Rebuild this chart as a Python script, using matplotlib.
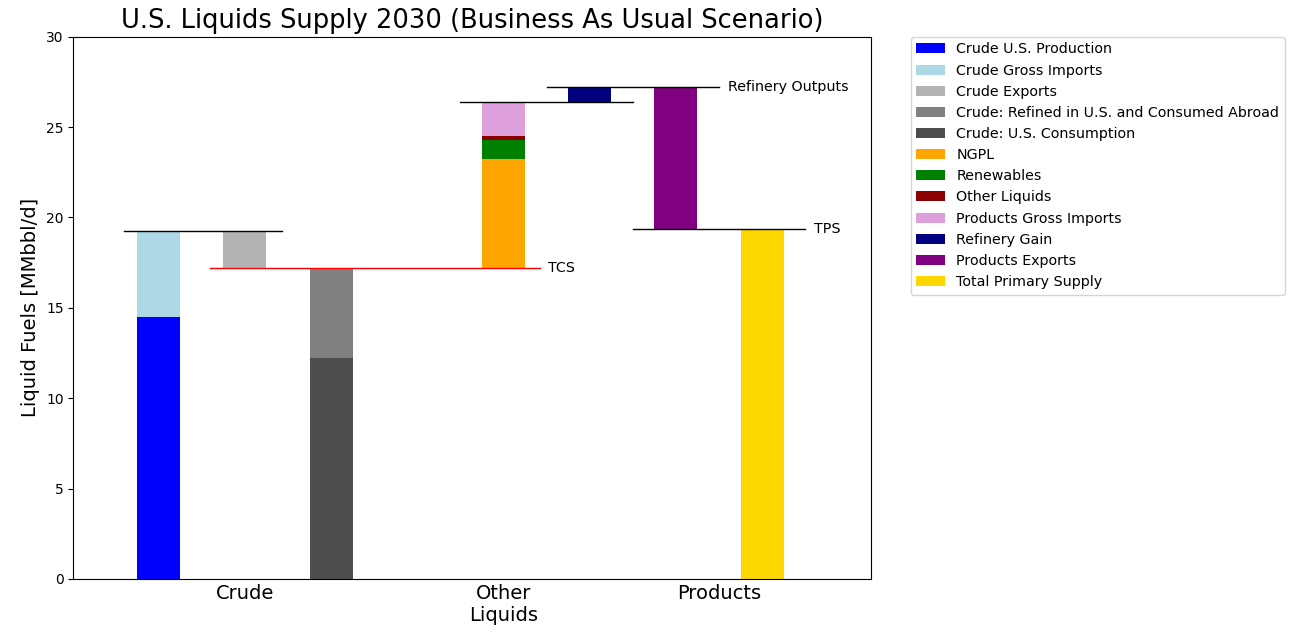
import matplotlib
matplotlib.use('Agg')
import matplotlib.pyplot as plt

# ----------------------------------------
# Data (MMbbl/d)
# ----------------------------------------
labels = ['Crude U.S. Production', 'Crude Gross Imports', 'Crude Exports',
          'Crude: Refined in U.S. and Consumed Abroad', 'Crude: U.S. Consumption',
          'NGPL', 'Renewables', 'Other Liquids', 'Products Gross Imports',
          'Refinery Gain', 'Products Exports', 'Total Primary Supply']
positions = [0, 0, 1, 2, 2, 4, 4, 4, 4, 5, 6, 7]
bottoms = [0, 14.48, 17.2, 12.21, 0, 17.2, 23.24, 24.26, 24.48, 26.36, 19.35, 0]
heights = [14.48, 4.77, 2.05, 4.99, 12.21, 6.04, 1.02, 0.22, 1.88, 0.88, 7.89, 19.35]
colors = ['blue', 'lightblue', '#b3b3b3', 'gray', '#4d4d4d', 'orange', 'green',
          'darkred', 'plum', 'navy', 'purple', 'gold']

# reference lines: level, x start, x end, colour, label
line_levels = [19.25, 17.2, 26.36, 27.24, 19.35]
line_start = [-0.4, 0.6, 3.5, 4.5, 5.5]
line_end = [1.43, 4.42, 5.5, 6.5, 7.5]
line_colors = ['black', 'red', 'black', 'black', 'black']
line_labels = ['', 'TCS', '', 'Refinery Outputs', 'TPS']

group_ticks = [1, 4, 6.5]
group_labels = ['Crude', 'Other\nLiquids', 'Products']

fig = plt.figure(figsize=(12.89, 6.32), dpi=100)
ax = fig.add_axes([0.0569, 0.0839, 0.6186, 0.8581])

for pos, bot, h, col, lab in zip(positions, bottoms, heights, colors, labels):
    ax.bar(pos, h, width=0.5, bottom=bot, color=col, label=lab)

for y, x0, x1, col, lab in zip(line_levels, line_start, line_end, line_colors, line_labels):
    ax.plot([x0, x1], [y, y], color=col, linewidth=1)
    if lab:
        ax.text(x1 + 0.1, y, lab, va='center', ha='left', fontsize=10.3)

ax.set_xlim(-0.99, 8.26)
ax.set_ylim(0, 30)
ax.set_xticks(group_ticks)
ax.set_xticklabels(group_labels, fontsize=14)
ax.tick_params(axis='x', length=0)
ax.set_ylabel('Liquid Fuels [MMbbl/d]', fontsize=14)
ax.set_title('U.S. Liquids Supply 2030 (Business As Usual Scenario)', fontsize=18.5)
ax.legend(bbox_to_anchor=(1.05, 1), loc=2, borderaxespad=0., fontsize=10.3)

plt.savefig('out.png', dpi=100)
